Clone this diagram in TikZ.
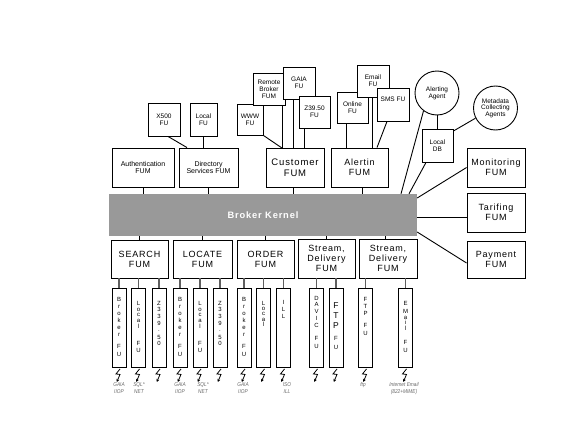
\documentclass[tikz,border=0pt]{standalone}
\usepackage{fontspec}
\setmainfont{Liberation Sans}
\newfontfamily\widefont[LetterSpace=9]{Liberation Sans}
\usetikzlibrary{arrows.meta}
\definecolor{kern}{RGB}{153,153,153}
\definecolor{lab}{RGB}{105,105,105}
\definecolor{glin}{RGB}{95,95,95}
\tikzset{
  box/.style={draw, line width=0.9pt, fill=white, inner sep=0pt, align=center},
  fum/.style={box, minimum height=39pt, font=\widefont\fontsize{9}{10}\selectfont},
  mid/.style={box, minimum height=39pt, font=\fontsize{7}{7.5}\selectfont},
  small/.style={box, font=\fontsize{6.5}{6.8}\selectfont},
  fubox/.style={box, minimum width=14pt, minimum height=79pt},
  vt/.style={inner sep=0pt, align=center, anchor=north},
  link/.style={line width=0.9pt},
  glink/.style={line width=1.6pt, draw=glin},
  bolt/.style={line width=0.8pt, -{Stealth[length=3pt,width=3pt]}},
  lbl/.style={font=\itshape\fontsize{5.6}{7}\selectfont, text=lab, align=center, inner sep=0pt, xscale=0.85},
}
\newcommand\zap[1]{\draw[bolt] ([xshift=1pt,yshift=-1.5pt]#1.south) -- ++(-4,5) -- ++(4,0.5) -- ++(-3.2,7.5);}
\begin{document}
\begin{tikzpicture}[x=1pt,y=-1pt]
\useasboundingbox (0,0) rectangle (567,428);

% kernel
\node[fill=kern, minimum width=308pt, minimum height=42pt, inner sep=0pt, text=white,
  font=\widefont\bfseries\fontsize{9.3}{10}\selectfont] (kernel) at (263,215) {Broker Kernel};

% upper FUMs
\node[mid, minimum width=62pt] (auth) at (143,167.5) {Authentication\\FUM};
\node[mid, minimum width=59pt] (dir) at (208.5,167.5) {Directory\\Services FUM};
\node[fum, minimum width=58pt, font=\widefont\fontsize{9.5}{11}\selectfont] (cust) at (295,168) {Customer\\FUM};
\node[fum, minimum width=57pt] (alert) at (359.5,167.5) {Alertin\\FUM};

% small FU boxes
\node[small, minimum width=32pt, minimum height=33pt] (x500) at (164,119.5) {X500\\FU};
\node[small, minimum width=27pt, minimum height=33pt] (localfu) at (203.5,119.5) {Local\\FU};
\node[small, minimum width=26pt, minimum height=31pt] (www) at (250,119.5) {WWW\\FU};
\node[small, minimum width=32pt, minimum height=32pt, font=\fontsize{6.5}{7}\selectfont] (remote) at (269,89) {Remote\\Broker\\FUM};
\node[small, minimum width=32pt, minimum height=32pt] (gaia) at (299,83) {GAIA\\FU};
\node[small, minimum width=31pt, minimum height=32pt] (z3950) at (314.5,112) {Z39.50\\FU};
\node[small, minimum width=31pt, minimum height=31pt] (online) at (352.5,107.5) {Online\\FU};
\node[small, minimum width=32pt, minimum height=32pt] (email) at (373,81) {Email\\FU};
\node[small, minimum width=32pt, minimum height=33pt] (sms) at (393,104.5) {};
\node[inner sep=0pt, font=\fontsize{6.5}{6.8}\selectfont] (smst) at (393,99) {SMS FU};

% agents
\node[draw, circle, line width=0.9pt, minimum size=44pt, inner sep=0pt, align=center,
  font=\fontsize{6.5}{7}\selectfont] (aa) at (437,93) {Alerting\\Agent};
\node[draw, circle, line width=0.9pt, minimum size=44pt, inner sep=0pt, align=center,
  font=\fontsize{6.5}{6.5}\selectfont] (md) at (495.5,108) {Metadata\\Collecting\\Agents};
\node[small, minimum width=31pt, minimum height=33pt] (localdb) at (437.5,145.5) {Local\\DB};

% right FUMs
\node[fum, minimum width=58pt] (mon) at (496,167.5) {Monitoring\\FUM};
\node[fum, minimum width=58pt] (tar) at (496,212.5) {Tarifing\\FUM};
\node[fum, minimum width=58pt, minimum height=37pt] (pay) at (496,259.5) {Payment\\FUM};

% lower FUMs
\node[fum, minimum width=57pt, minimum height=38pt] (search) at (139.5,259) {SEARCH\\FUM};
\node[fum, minimum width=59pt, minimum height=38pt] (locate) at (202.5,259) {LOCATE\\FUM};
\node[fum, minimum width=57pt, minimum height=38pt] (order) at (265.5,259) {ORDER\\FUM};
\node[fum, minimum width=57pt, minimum height=39pt] (stream1) at (326.5,258.5) {Stream,\\Delivery\\FUM};
\node[fum, minimum width=58pt, minimum height=39pt] (stream2) at (388,258.5) {Stream,\\Delivery\\FUM};

% FU columns
\foreach \n/\x in {b1/119, l1/138.5, z1/159, b2/180, l2/200, z2/220, b3/244, l3/263.5,
  ill/283.5, davic/316.5, ftpa/336, ftpb/365.5, emfu/405.5}
  {\node[fubox] (\n) at (\x,327.5) {};}

\foreach \n/\x in {b1/119, b2/180, b3/244}
  {\node[vt, font=\fontsize{6}{7.1}\selectfont] (\n t) at (\x,296.8) {B\\r\\o\\k\\e\\r\\[5pt]F\\[0.4pt]U};}
\foreach \n/\x in {l1/138.5, l2/200}
  {\node[vt, font=\fontsize{6}{5.9}\selectfont] (\n t) at (\x,300.8) {L\\o\\c\\a\\l\\[10.6pt]F\\[1.6pt]U};}
\node[vt, font=\fontsize{6}{5.3}\selectfont] (l3t) at (263.5,300.8) {L\\o\\c\\a\\l};
\foreach \n/\x in {z1/159, z2/220}
  {\node[vt, font=\fontsize{6}{6.8}\selectfont] (\n t) at (\x,300.8) {Z\\3\\3\\9\\[-0.5pt].\\[0.6pt]5\\[-0.8pt]0};}
\node[vt, font=\fontsize{6}{7}\selectfont] (illt) at (283.5,299.8) {I\\L\\L};
\node[vt, font=\fontsize{6}{6.75}\selectfont] (davict) at (316.5,295.8) {D\\A\\V\\I\\C\\[6.25pt]F\\[1.25pt]U};
\node[vt, font=\fontsize{8.5}{10}\selectfont] (ftpat) at (336,302) {F\\T\\P};
\node[vt, font=\fontsize{6}{9}\selectfont] (ftpau) at (336,335.8) {F\\U};
\node[vt, font=\fontsize{6}{7}\selectfont] (ftpbt) at (365.5,296.8) {F\\T\\P\\[5pt]F\\[1pt]U};
\node[vt, font=\fontsize{6}{5}\selectfont] (emfut) at (405.5,300.8) {E\\[3pt]M\\[1pt]a\\i\\[1pt]l\\[9.1pt]F\\[3pt]U};

% bolts
\foreach \n in {b1,l1,z1,b2,l2,z2,b3,l3,ill,davic,ftpa,ftpb,emfu} {\zap{\n}}

% protocol labels
\node[lbl] (lg1) at (119,388.5) {GAIA\\IIOP};
\node[lbl] (ls1) at (139,388.5) {SQL*\\NET};
\node[lbl] (lg2) at (180,388.5) {GAIA\\IIOP};
\node[lbl] (ls2) at (203,388.5) {SQL*\\NET};
\node[lbl] (lg3) at (243,388.5) {GAIA\\IIOP};
\node[lbl] (liso) at (287,388.5) {ISO\\ILL};
\node[lbl] (lftp) at (363,385) {ftp};
\node[lbl] (lmail) at (404,388.5) {Internet Email\\(822+MIME)};

% connectors: upper
\draw[link] (auth.south) -- (auth.south |- kernel.north);
\draw[link] (dir.south) -- (dir.south |- kernel.north);
\draw[link] (293,0 |- cust.south) -- (293,0 |- kernel.north);
\draw[link] (362,0 |- alert.south) -- (362,0 |- kernel.north);
\draw[link] (168,0 |- x500.south) -- (187,0 |- dir.north);
\draw[link] (localfu.south) -- (localfu.south |- dir.north);
\draw[link] (www.south east) -- (282,0 |- cust.north);
\draw[link] (282,0 |- remote.south) -- (282,0 |- cust.north);
\draw[link] (293,0 |- gaia.south) -- (293,0 |- cust.north);
\draw[link] (304,0 |- z3950.south) -- (304,0 |- cust.north);
\draw[link] (346,0 |- online.south) -- (346,0 |- alert.north);
\draw[link] (372,0 |- email.south) -- (372,0 |- alert.north);
\draw[link] (387,0 |- sms.south) -- (377,0 |- alert.north);
\draw[link] (aa.south) -- (aa.south |- localdb.north);
\draw[link] (md.207) -- (localdb.east |- 0,131);
\draw[link] (aa.233) -- (401,0 |- kernel.north);
\draw[link] (426,0 |- localdb.south) -- (409,0 |- kernel.north);
\draw[link] (kernel.east |- 0,198) -- (mon.west);
\draw[link] (kernel.east |- 0,217) -- (tar.west |- 0,217);
\draw[link] (kernel.east |- 0,232) -- (pay.west |- 0,263);

% connectors: lower
\foreach \f in {search,locate,order,stream1}
  {\draw[link] (\f.north) -- (\f.north |- kernel.south);}
\draw[link] (385,0 |- stream2.north) -- (385,0 |- kernel.south);
\foreach \f/\u in {search/b1, search/l1, search/z1, locate/b2, locate/l2, locate/z2,
  order/b3, order/l3, order/ill, stream1/davic, stream1/ftpa, stream2/ftpb, stream2/emfu}
  {\draw[glink] (\u.north |- \f.south) -- (\u.north);}
\end{tikzpicture}
\end{document}
